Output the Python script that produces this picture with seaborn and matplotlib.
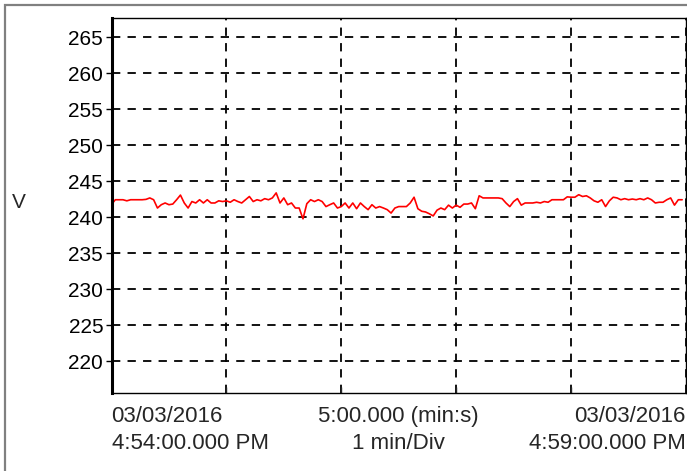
import numpy as np
import pandas as pd
import matplotlib
matplotlib.use('Agg')
import matplotlib.pyplot as plt
import seaborn as sns
from matplotlib.patches import Rectangle

sns.set_style("white")
plt.rcParams['font.family'] = ['Liberation Sans', 'DejaVu Sans']

# voltage samples, one every 2 s from 4:54:00 PM
seconds = list(range(0, 300, 2))
volts = [
    241.8, 242.45, 242.45, 242.45, 242.3, 242.45, 242.45, 242.45, 242.45, 242.5,
    242.7, 242.45, 241.3, 241.76, 242.0, 241.76, 241.85, 242.45, 243.1, 242.0,
    241.3, 242.2, 242.0, 242.45, 242.0, 242.45, 242.0, 242.0, 242.3, 242.2,
    242.3, 242.1, 242.45, 242.2, 242.0, 242.45, 242.9, 242.2, 242.45, 242.3,
    242.6, 242.45, 242.7, 243.4, 242.0, 242.7, 241.76, 242.0, 241.3, 241.3,
    239.8, 241.9, 242.45, 242.2, 242.45, 242.2, 241.5, 241.76, 242.0, 241.3,
    241.5, 242.0, 241.3, 242.0, 241.2, 242.0, 241.5, 241.07, 241.76, 241.3,
    241.5, 241.3, 241.07, 240.6, 241.3, 241.5, 241.5, 241.5, 242.0, 242.8,
    241.2, 240.85, 240.75, 240.5, 240.2, 241.0, 241.3, 241.07, 241.7, 241.3,
    241.7, 241.4, 241.85, 241.85, 242.0, 241.2, 243.0, 242.7, 242.7, 242.7,
    242.7, 242.7, 242.6, 242.0, 241.5, 242.2, 242.6, 241.7, 242.0, 242.0,
    242.0, 242.1, 242.0, 242.2, 242.1, 242.45, 242.45, 242.45, 242.45, 242.85,
    242.8, 242.8, 243.15, 242.9, 243.0, 242.7, 242.3, 242.1, 242.45, 241.5,
    242.3, 242.8, 242.7, 242.45, 242.6, 242.45, 242.55, 242.45, 242.6, 242.45,
    242.7, 242.45, 242.0, 242.1, 242.1, 242.45, 242.7, 241.7, 242.45, 242.45,
]
y_ticks = [220, 225, 230, 235, 240, 245, 250, 255, 260, 265]
x_divs = [0, 60, 120, 180, 240, 300]
left_label = '03/03/2016\n4:54:00.000 PM'
mid_label = '5:00.000 (min:s)\n1 min/Div'
right_label = '03/03/2016\n4:59:00.000 PM'

df = pd.DataFrame({'t': seconds, 'V': volts})

fig = plt.figure(figsize=(6.87, 4.71), dpi=100)
ax = fig.add_axes([0.1623, 0.1656, 0.8362, 0.7962])
sns.lineplot(data=df, x='t', y='V', color='#ff0000', linewidth=1.2, ax=ax)

ax.set_xlim(0, 300)
ax.set_ylim(215.6, 267.7)
ax.set_xticks(x_divs)
ax.set_xticklabels([])
ax.set_yticks(y_ticks)
ax.set_xlabel('')
ax.set_ylabel('')
ax.grid(True, color='black', linestyle=(0, (4.6, 4.0)), linewidth=1.3)
ax.tick_params(axis='y', direction='out', length=4, width=1, labelsize=15,
               colors='black', pad=2, left=True)
ax.tick_params(axis='x', direction='in', length=4, width=1, bottom=True)
for s in ax.spines.values():
    s.set_color('black')
    s.set_linewidth(1.0)
ax.spines['left'].set_linewidth(2.2)

fig.text(19 / 687, 1 - 203 / 471, 'V', fontsize=15, ha='center', va='center')
bottom_y = 1 - 430 / 471
fig.text(0.1623, bottom_y, left_label, fontsize=16, ha='left', va='center', linespacing=1.35)
fig.text(0.1623 + 0.8362 / 2, bottom_y, mid_label, fontsize=16, ha='center', va='center',
         linespacing=1.35, multialignment='center')
fig.text(0.9985, bottom_y, right_label, fontsize=16, ha='right', va='center',
         linespacing=1.35, multialignment='right')

fig.patches.append(Rectangle((4.5 / 687, -0.1), 1.2, 1.1 - 5 / 471,
                             transform=fig.transFigure, fill=False,
                             edgecolor='#808080', linewidth=1.6))

fig.savefig('out.png', dpi=100)
